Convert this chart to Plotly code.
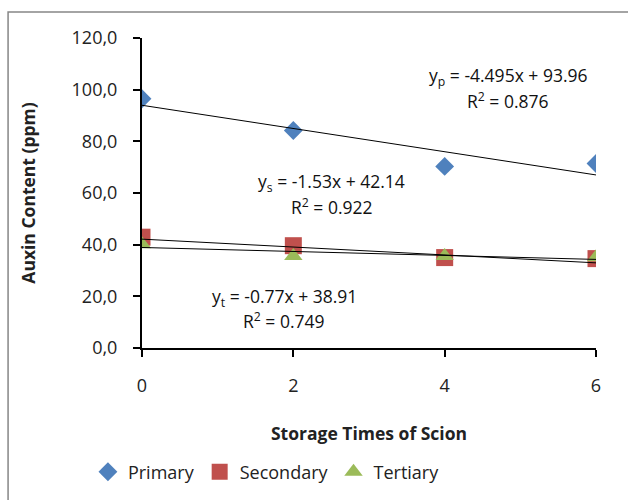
import plotly.graph_objects as go

storage_times = [0, 2, 4, 6]
primary = [96.5, 84.2, 70.3, 71.4]
secondary = [42.9, 39.6, 35.0, 34.6]
tertiary = [40.2, 35.6, 35.6, 35.1]

series_names = ["Primary", "Secondary", "Tertiary"]
slopes = [-4.495, -1.53, -0.77]
intercepts = [93.96, 42.14, 38.91]
equation_lines = [
    "y<sub>p</sub> = -4.495x + 93.96",
    "y<sub>s</sub> = -1.53x + 42.14",
    "y<sub>t</sub> = -0.77x + 38.91",
]
r2_lines = [
    "R<sup>2</sup> = 0.876",
    "R<sup>2</sup> = 0.922",
    "R<sup>2</sup> = 0.749",
]
y_ticks = [0, 20, 40, 60, 80, 100, 120]
y_tick_labels = ["0,0", "20,0", "40,0", "60,0", "80,0", "100,0", "120,0"]
x_ticks = [0, 2, 4, 6]

FONT = "Open Sans"
colors = ["#4F81BD", "#C0504D", "#9BBB59"]
symbols = ["diamond", "square", "triangle-up"]
sizes = [14.5, 17, 16]

fig = go.Figure()
for name, vals, c, s, sz in zip(series_names, [primary, secondary, tertiary], colors, symbols, sizes):
    fig.add_trace(go.Scatter(
        x=storage_times, y=vals, mode="markers", name=name,
        marker=dict(color=c, symbol=s, size=sz, line=dict(width=0)),
    ))

for m, b in zip(slopes, intercepts):
    xs = [storage_times[0], storage_times[-1]]
    fig.add_trace(go.Scatter(
        x=xs, y=[m * xv + b for xv in xs], mode="lines",
        line=dict(color="black", width=1), showlegend=False, hoverinfo="skip",
    ))

# equation label positions (data coords): (x, y line1, y line2)
eq_pos = [(4.84, 105.2, 95.9), (2.51, 64.2, 54.9), (1.88, 19.7, 10.6)]
for l1, l2, (ex, ey1, ey2) in zip(equation_lines, r2_lines, eq_pos):
    fig.add_annotation(x=ex, y=ey1, text=l1, showarrow=False,
                       font=dict(family=FONT, size=17.5, color="#111"))
    fig.add_annotation(x=ex, y=ey2, text=l2, showarrow=False,
                       font=dict(family=FONT, size=17.5, color="#111"))

fig.add_shape(type="rect", xref="paper", yref="paper",
              x0=-0.295, x1=1.25, y0=-0.6, y1=1.084,
              line=dict(color="#868686", width=1.5), fillcolor="rgba(0,0,0,0)",
              layer="below")

fig.update_layout(
    width=628, height=500,
    margin=dict(l=142, r=32, t=38, b=152),
    paper_bgcolor="white", plot_bgcolor="white",
    font=dict(family=FONT, color="#222"),
    showlegend=True,
    legend=dict(orientation="h", xref="container", yref="container",
                x=0.14, xanchor="left", y=0.056, yanchor="middle",
                font=dict(family=FONT, size=18, color="#222"),
                itemwidth=30, tracegroupgap=0),
    xaxis=dict(range=[0, 6], tickvals=x_ticks, showline=True, linecolor="black", linewidth=2,
               ticks="outside", ticklen=7, tickwidth=2, tickcolor="black",
               showgrid=False, zeroline=False, ticklabelstandoff=13,
               tickfont=dict(family=FONT, size=18, color="#222"),
               title=dict(text="<b>Storage Times of Scion</b>", standoff=32,
                          font=dict(family=FONT, size=17.5, color="#222"))),
    yaxis=dict(range=[0, 120], tickvals=y_ticks, ticktext=y_tick_labels,
               showline=True, linecolor="black", linewidth=2,
               ticks="outside", ticklen=7, tickwidth=2, tickcolor="black",
               showgrid=False, zeroline=False, ticklabelstandoff=12,
               tickfont=dict(family=FONT, size=18, color="#222"),
               title=dict(text="<b>Auxin Content (ppm)</b>", standoff=31,
                          font=dict(family=FONT, size=17.5, color="#222"))),
)

fig.write_html("out.html")
